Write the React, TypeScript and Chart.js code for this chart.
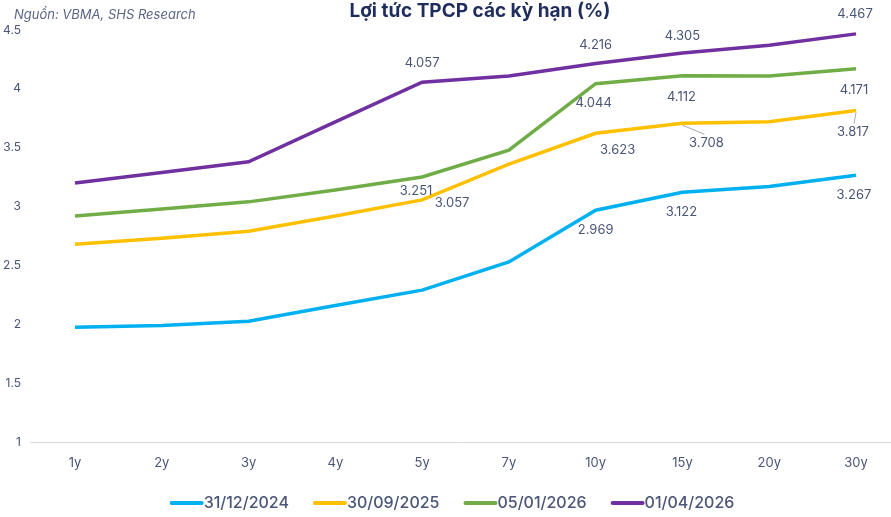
import React, { useEffect, useRef } from "react";
import { Chart, registerables } from "chart.js";

Chart.register(...registerables);

const categories = ["1y", "2y", "3y", "4y", "5y", "7y", "10y", "15y", "20y", "30y"];

const seriesNames = ["31/12/2024", "30/09/2025", "05/01/2026", "01/04/2026"];
const seriesColors = ["#00B0F0", "#FFC000", "#70AD47", "#7030A0"];

const y20241231 = [1.975, 1.99, 2.025, 2.16, 2.29, 2.53, 2.969, 3.122, 3.17, 3.267];
const y20250930 = [2.68, 2.73, 2.79, 2.92, 3.057, 3.36, 3.623, 3.708, 3.72, 3.817];
const y20260105 = [2.92, 2.98, 3.04, 3.14, 3.251, 3.48, 4.044, 4.112, 4.11, 4.171];
const y20260401 = [3.2, 3.29, 3.38, 3.72, 4.057, 4.11, 4.216, 4.305, 4.37, 4.467];

const seriesValues = [y20241231, y20250930, y20260105, y20260401];

// indices of the points whose value is printed, per series
const labelledPoints = [
  [6, 7, 9],
  [4, 6, 7, 9],
  [4, 6, 7, 9],
  [4, 6, 7, 9],
];

// label placement (dx, dy, leader line) per series / labelled point
const labelPlacement: { dx: number; dy: number; leader?: boolean }[][] = [
  [{ dx: 0, dy: 20 }, { dx: -1, dy: 20 }, { dx: -2, dy: 20 }],
  [{ dx: 30, dy: 3 }, { dx: 22, dy: 17 }, { dx: 24, dy: 20, leader: true }, { dx: -3, dy: 22, leader: true }],
  [{ dx: -6, dy: 14 }, { dx: -2, dy: 19 }, { dx: -1, dy: 21 }, { dx: -2, dy: 21 }],
  [{ dx: 0, dy: -19 }, { dx: 0, dy: -18 }, { dx: 0, dy: -17 }, { dx: -1, dy: -20 }],
];

const yTicks = [1, 1.5, 2, 2.5, 3, 3.5, 4, 4.5];

const TITLE = "Lợi tức TPCP các kỳ hạn (%)";
const SOURCE = "Nguồn: VBMA, SHS Research";

const FONT = "Inter, 'Noto Sans', sans-serif";
const TEXT = "#4A5677";

export default function App() {
  const ref = useRef<HTMLCanvasElement>(null);

  useEffect(() => {
    if (!ref.current) return;

    const decor = {
      id: "decor",
      beforeDatasetsDraw(chart: any) {
        const ctx = chart.ctx;
        const ys = chart.scales.y;
        const yb = ys.getPixelForValue(1);
        ctx.save();
        ctx.strokeStyle = "#D9D9D9";
        ctx.lineWidth = 1;
        ctx.beginPath();
        ctx.moveTo(30, Math.round(yb) + 0.5);
        ctx.lineTo(chart.width, Math.round(yb) + 0.5);
        ctx.stroke();
        ctx.restore();
      },
      afterDatasetsDraw(chart: any) {
        const ctx = chart.ctx;
        ctx.save();
        // data labels
        ctx.font = `13px ${FONT}`;
        ctx.fillStyle = TEXT;
        ctx.textAlign = "center";
        ctx.textBaseline = "middle";
        labelledPoints.forEach((idxs, s) => {
          const meta = chart.getDatasetMeta(s);
          idxs.forEach((i, k) => {
            const pt = meta.data[i];
            const pl = labelPlacement[s][k];
            const lx = pt.x + pl.dx;
            const ly = pt.y + pl.dy;
            if (pl.leader) {
              ctx.strokeStyle = "#A6A6A6";
              ctx.lineWidth = 1;
              ctx.beginPath();
              ctx.moveTo(pt.x, pt.y + 2);
              ctx.lineTo(pl.dx > 0 ? lx - 2 : lx + 1, ly - 9);
              ctx.stroke();
            }
            ctx.fillText(seriesValues[s][i].toFixed(3), lx, ly);
          });
        });
        // title & source
        ctx.fillStyle = "#1F2D5C";
        ctx.font = `bold 19px ${FONT}`;
        ctx.fillText(TITLE, 480, 11);
        ctx.fillStyle = "#5A6688";
        ctx.font = `italic 13px ${FONT}`;
        ctx.textAlign = "left";
        ctx.fillText(SOURCE, 14, 15);
        // legend
        ctx.font = `500 16px ${FONT}`;
        const ly = 503;
        let total = 0;
        const widths = seriesNames.map((n) => ctx.measureText(n).width);
        const gap = 24;
        const sw = 34;
        widths.forEach((w) => (total += sw + w));
        total += gap * (seriesNames.length - 1);
        let x = 452 - total / 2;
        seriesNames.forEach((n, s) => {
          ctx.strokeStyle = seriesColors[s];
          ctx.lineWidth = 4;
          ctx.lineCap = "round";
          ctx.beginPath();
          ctx.moveTo(x + 2, ly);
          ctx.lineTo(x + sw - 2, ly);
          ctx.stroke();
          ctx.fillStyle = TEXT;
          ctx.fillText(n, x + sw, ly);
          x += sw + widths[s] + gap;
        });
        ctx.restore();
      },
    };

    const chart = new Chart(ref.current, {
      type: "line",
      data: {
        labels: categories,
        datasets: seriesNames.map((name, s) => ({
          label: name,
          data: seriesValues[s],
          borderColor: seriesColors[s],
          backgroundColor: seriesColors[s],
          borderWidth: 3.5,
          pointRadius: 0,
          tension: 0,
          fill: false,
        })),
      },
      options: {
        animation: false,
        responsive: false,
        devicePixelRatio: 1,
        layout: { padding: { left: 0, top: 30, right: 35, bottom: 0 } },
        plugins: {
          legend: { display: false },
          title: { display: false },
          tooltip: { enabled: false },
        },
        scales: {
          x: {
            type: "category",
            offset: false,
            grid: { display: false, drawTicks: false },
            border: { display: false },
            ticks: {
              color: TEXT,
              font: { family: FONT, size: 13 },
              padding: 13,
              maxRotation: 0,
            },
            afterFit(s: any) {
              s.height = 75;
              s.paddingLeft = 0;
              s.paddingRight = 0;
            },
          },
          y: {
            min: 1,
            max: 4.5,
            afterBuildTicks(s: any) {
              s.ticks = yTicks.map((v) => ({ value: v }));
            },
            grid: { display: false, drawTicks: false },
            border: { display: false },
            ticks: {
              color: TEXT,
              font: { family: FONT, size: 12 },
              padding: 54,
              callback: (v: any) => String(v),
            },
            afterFit(s: any) {
              s.width = 75;
              s.paddingTop = 0;
              s.paddingBottom = 0;
            },
          },
        },
      },
      plugins: [decor],
    });
    return () => chart.destroy();
  }, []);

  return (
    <div style={{ position: "fixed", left: 0, top: 0, width: 891, height: 517, background: "#fff" }}>
      <canvas ref={ref} width={891} height={517} style={{ width: 891, height: 517, display: "block" }} />
    </div>
  );
}
